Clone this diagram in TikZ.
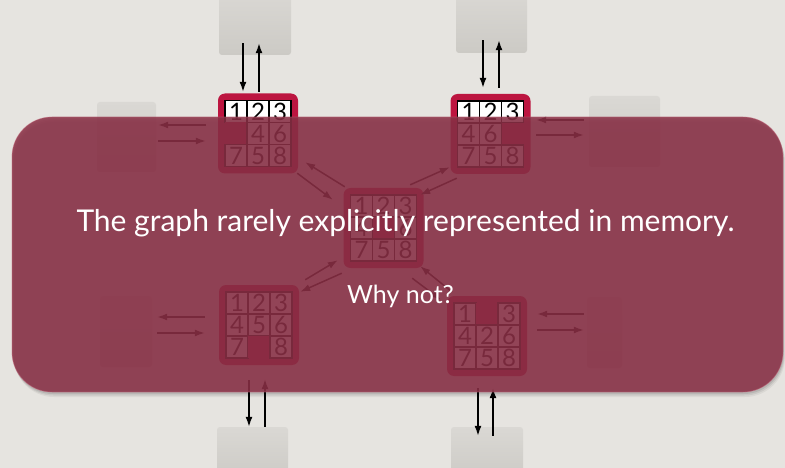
\documentclass[tikz,border=0pt]{standalone}
\usepackage{fontspec}
\setmainfont{Lato}
\usetikzlibrary{arrows.meta,calc}

\definecolor{paper}{HTML}{E6E4E0}
\definecolor{boxtop}{HTML}{DAD8D4}
\definecolor{boxbot}{HTML}{CCCAC5}
\definecolor{boardred}{HTML}{BC1540}
\definecolor{panelred}{RGB}{138,48,70}
\definecolor{panelrim}{HTML}{C06478}

% one 8-puzzle: #1 = board node, #2 = nine entries row by row, 0 = blank
\newcommand\puzzlecells[2]{%
  \foreach \v [count=\i from 0] in {#2} {
    \pgfmathtruncatemacro\pcol{mod(\i,3)}
    \pgfmathtruncatemacro\prow{div(\i,3)}
    \ifnum\v=0
      \fill[boardred] ($(#1.center)+(\pcol*22-33,\prow*22-33)$) rectangle ++(22,22);
    \else
      \node[cell] at ($(#1.center)+(\pcol*22-22,\prow*22-22)$) {\v};
    \fi
  }%
}

\begin{document}
\begin{tikzpicture}[x=1pt,y=-1pt,
  board/.style={rectangle, fill=boardred, rounded corners=7pt,
    minimum size=80pt, inner sep=0pt},
  cell/.style={rectangle, draw=black, line width=1.4pt, fill=white,
    minimum size=22pt, inner sep=0pt, font=\fontsize{24}{24}\selectfont},
  nbox/.style={rectangle, rounded corners=3pt, top color=boxtop,
    bottom color=boxbot, inner sep=0pt},
  arr/.style={line width=1.5pt, -{Latex[length=10pt,width=7pt]}},
  words/.style={text=white, anchor=base, inner sep=0pt}]

\useasboundingbox (0,0) rectangle (785,468);
\clip (0,0) rectangle (785,468);
\fill[paper] (0,0) rectangle (785,468);

% neighbouring states, shown as blank cards
\node[nbox, minimum width=72pt, minimum height=65pt] (n1) at (255,22.5) {};
\node[nbox, minimum width=71pt, minimum height=63pt] (n2) at (491.5,21.5) {};
\node[nbox, minimum width=59pt, minimum height=70pt] (w1) at (126.5,137) {};
\node[nbox, minimum width=71pt, minimum height=71pt] (e1) at (624.5,131.5) {};
\node[nbox, minimum width=52pt, minimum height=71pt] (w2) at (126,331.5) {};
\node[nbox, minimum width=35pt, minimum height=71pt] (e2) at (604.5,332.5) {};
\node[nbox, minimum width=71pt, minimum height=53pt] (s1) at (252.5,453.5) {};
\node[nbox, minimum width=72pt, minimum height=53pt] (s2) at (487,453.5) {};

% the five puzzle states
\node[board] (tl) at (258,133.5) {};
\node[board] (tr) at (490.5,134) {};
\node[board] (c)  at (383.5,228) {};
\node[board] (bl) at (259,325) {};
\node[board] (br) at (487,336) {};
\puzzlecells{tl}{1,2,3,0,4,6,7,5,8}
\puzzlecells{tr}{1,2,3,4,6,0,7,5,8}
\puzzlecells{c}{1,2,3,4,0,6,7,5,8}
\puzzlecells{bl}{1,2,3,4,5,6,7,0,8}
\puzzlecells{br}{1,0,3,4,2,6,7,5,8}

% moves between states
\draw[arr] ($(n1.south)+(-12,-12)$) -- ($(tl.north)+(-15,-1.5)$);
\draw[arr] ($(tl.north)+(1,-1.5)$) -- ($(n1.south)+(4,-12)$);
\draw[arr] ($(n2.south)+(-8.5,-13)$) -- ($(tr.north)+(-7.5,-6)$);
\draw[arr] ($(tr.north)+(8.5,-6)$) -- ($(n2.south)+(7.5,-13)$);

\draw[arr] ($(tl.west)+(-12,-8.5)$) -- ($(w1.east)+(2,-12)$);
\draw[arr] ($(w1.east)+(2,4)$) -- ($(tl.west)+(-12,7.5)$);
\draw[arr] ($(e1.west)+(-5,-11.5)$) -- ($(tr.east)+(5.5,-14)$);
\draw[arr] ($(tr.east)+(5.5,1)$) -- ($(e1.west)+(-5,3.5)$);

\draw[arr] ($(bl.west)+(-14,-8)$) -- ($(w2.east)+(5,-14.5)$);
\draw[arr] ($(w2.east)+(5,1.5)$) -- ($(bl.west)+(-14,8)$);
\draw[arr] ($(e2.west)+(-3,-18.5)$) -- ($(br.east)+(10,-22)$);
\draw[arr] ($(br.east)+(10,-6)$) -- ($(e2.west)+(-3,-2.5)$);

\draw[arr] ($(bl.south)+(-10,15)$) -- ($(s1.north)+(-3.5,0)$);
\draw[arr] ($(s1.north)+(12.5,0)$) -- ($(bl.south)+(6,14)$);
\draw[arr] ($(br.south)+(-9,12)$) -- ($(s2.north)+(-9,9)$);
\draw[arr] ($(s2.north)+(6,9)$) -- ($(br.south)+(6,12)$);

\draw[arr] ($(c.north west)+(1.5,-1)$) -- ($(tl.south east)+(7,-11.5)$);
\draw[arr] ($(tl.south east)+(-1,-0.5)$) -- ($(c.north west)+(-10.5,12)$);
\draw[arr] ($(c.north east)+(-13.5,-3)$) -- ($(tr.south west)+(-0.5,-7)$);
\draw[arr] ($(tr.south west)+(6.5,4)$) -- ($(c.north east)+(-3.5,7)$);
\draw[arr] ($(bl.north east)+(6,-5)$) -- ($(c.south west)+(-5.5,-8)$);
\draw[arr] ($(c.south west)+(-1.5,5)$) -- ($(bl.north east)+(1,7)$);
\draw[arr] ($(c.south east)+(-11.5,10)$) -- ($(br.north west)+(-6,4)$);
\draw[arr] ($(br.north west)+(5,-4)$) -- ($(c.south east)+(-3.5,-2)$);

% translucent panel with soft shadow
\foreach \d/\o in {5/0.05,3.5/0.07,2/0.09}
  \fill[black, opacity=\o, rounded corners=40pt]
    (12+\d*0.4,117+\d) rectangle (783+\d*0.4,392+\d);
\fill[panelred, opacity=0.87, rounded corners=40pt] (12,117) rectangle (783,392);
\draw[panelrim, opacity=0.5, line width=0.8pt, rounded corners=40pt]
  (12,117) rectangle (783,392);

\node[words, font=\fontsize{30}{30}\selectfont] (title) at (405.5,232)
  {The graph rarely explicitly represented in memory.};
\node[words, font=\fontsize{25}{25}\selectfont] (why) at (400.5,303) {Why not?};
\end{tikzpicture}
\end{document}
